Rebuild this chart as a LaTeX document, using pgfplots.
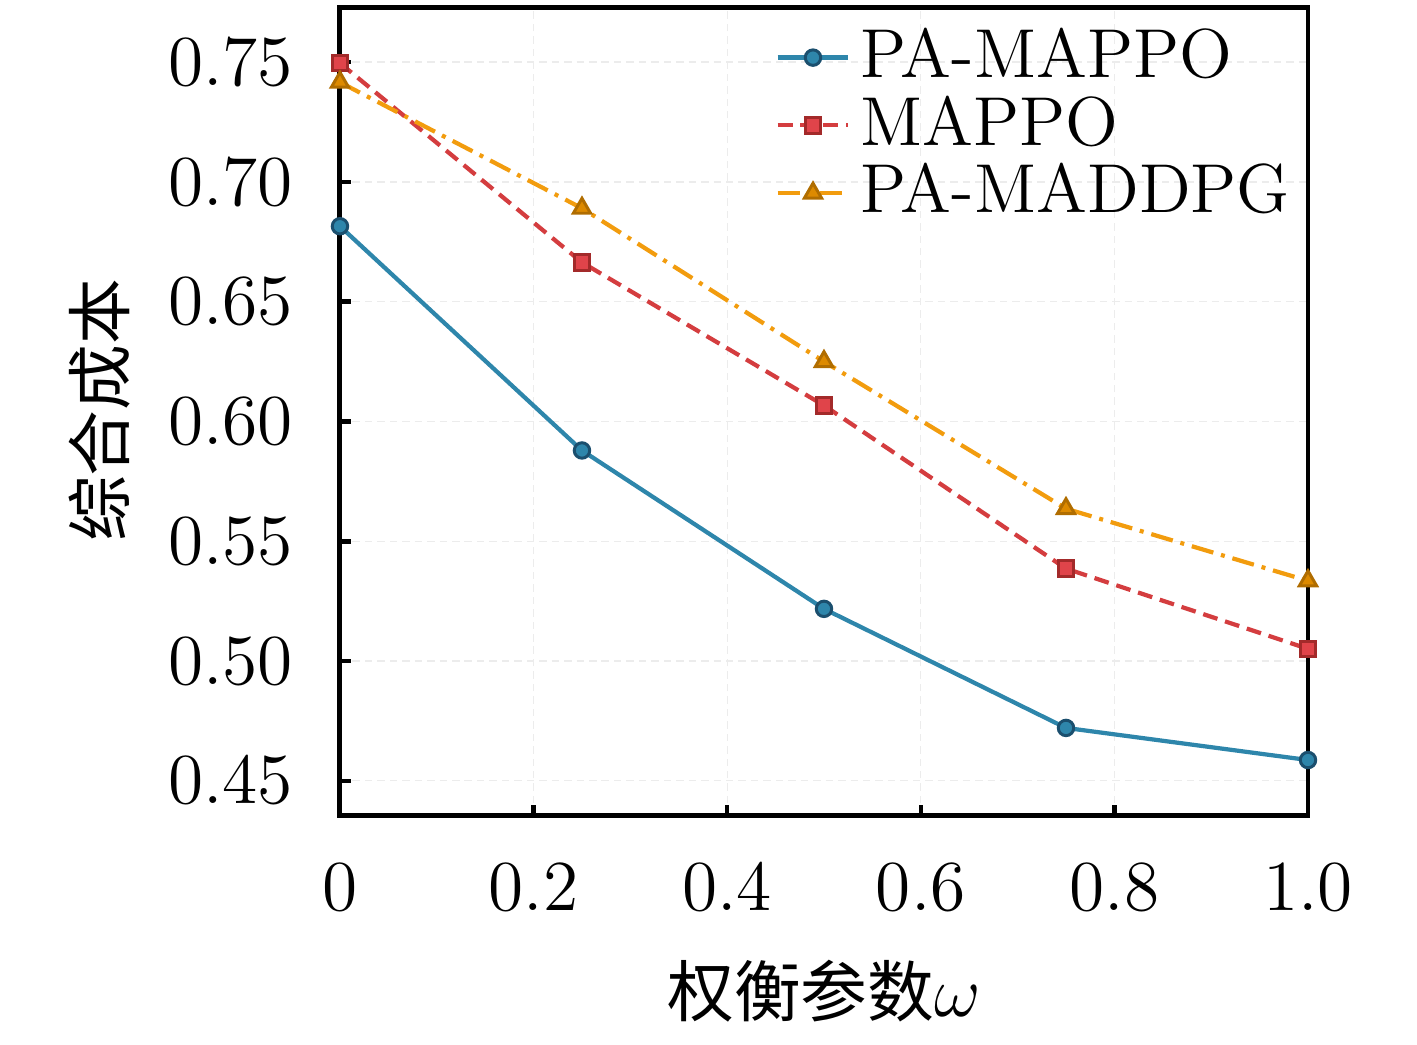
\documentclass[border=0pt]{standalone}
\usepackage{fontspec}
\usepackage{pgfplots}
\pgfplotsset{compat=1.18}
\newfontfamily\cjk{Noto Sans CJK SC}
\definecolor{cblue}{HTML}{2E86AB}
\definecolor{cblueE}{HTML}{1B4F6E}
\definecolor{cred}{HTML}{D43D3F}
\definecolor{credF}{HTML}{E0444A}
\definecolor{credE}{HTML}{A32A2A}
\definecolor{corange}{HTML}{F29C0E}
\definecolor{corangeF}{HTML}{DD8A00}
\definecolor{corangeE}{HTML}{B06D00}
\begin{document}
\fontsize{13.2}{16}\selectfont
\begin{tikzpicture}
\begin{axis}[
  scale only axis,
  width=6.83cm, height=5.70cm,
  xmin=0, xmax=1.0, ymin=0.4354, ymax=0.7726,
  clip=false,
  axis line style={line width=1pt},
  xtick={0,0.2,0.4,0.6,0.8,1.0},
  xticklabels={$0$,$0.2$,$0.4$,$0.6$,$0.8$,$1.0$},
  ytick={0.45,0.50,0.55,0.60,0.65,0.70,0.75},
  yticklabels={$0.45$,$0.50$,$0.55$,$0.60$,$0.65$,$0.70$,$0.75$},
  tick label style={font=\fontsize{13.8}{16}\selectfont},
  tick align=inside,
  xtick pos=bottom, ytick pos=left,
  major tick length=0.8mm,
  tick style={line width=0.9pt, black},
  xticklabel style={yshift=-0.18cm},
  yticklabel style={xshift=-0.17cm},
  grid=major,
  grid style={line width=0.25pt, gray!15, dash pattern=on 1.5pt off 1pt},
  xlabel={{\cjk 权衡参数}$\omega$},
  ylabel={\cjk 综合成本},
  xlabel style={at={(rel axis cs:0.5,-0.217)}, anchor=center, font=\fontsize{13.4}{16}\selectfont},
  ylabel style={at={(rel axis cs:-0.248,0.502)}, anchor=center},
  legend style={at={(rel axis cs:0.4437,0.995)}, anchor=north west, draw=none, fill=none,
    row sep=-2.3pt, inner sep=1pt, font=\fontsize{13.9}{16}\selectfont},
  legend cell align=left,
  legend image code/.code={
    \draw[mark repeat=2,mark phase=2] plot coordinates {(0cm,0cm) (0.25cm,0cm) (0.5cm,0cm)};},
]
\path (rel axis cs:-0.3512,-0.2639) rectangle (rel axis cs:1.1126,1.0099);
\addplot[color=cblue, line width=0.85pt, mark=*, mark size=1.55pt,
  mark options={solid, fill=cblue, draw=cblueE, line width=0.6pt}]
  coordinates {(0,0.6815) (0.25,0.5879) (0.5,0.5218) (0.75,0.4721) (1.0,0.4587)};
\addlegendentry{PA-MAPPO}
\addplot[color=cred, line width=0.85pt, dash pattern=on 3pt off 1.6pt, mark=square*, mark size=1.55pt,
  mark options={solid, fill=credF, draw=credE, line width=0.6pt}]
  coordinates {(0,0.7496) (0.25,0.6664) (0.5,0.6067) (0.75,0.5386) (1.0,0.5051)};
\addlegendentry{MAPPO}
\addplot[color=corange, line width=0.85pt, dash pattern=on 4.5pt off 1.6pt on 0.8pt off 1.6pt, mark=triangle*, mark size=2pt,
  mark options={solid, fill=corangeF, draw=corangeE, line width=0.6pt}]
  coordinates {(0,0.7416) (0.25,0.6890) (0.5,0.6250) (0.75,0.5636) (1.0,0.5335)};
\addlegendentry{PA-MADDPG}
\end{axis}
\end{tikzpicture}
\end{document}
